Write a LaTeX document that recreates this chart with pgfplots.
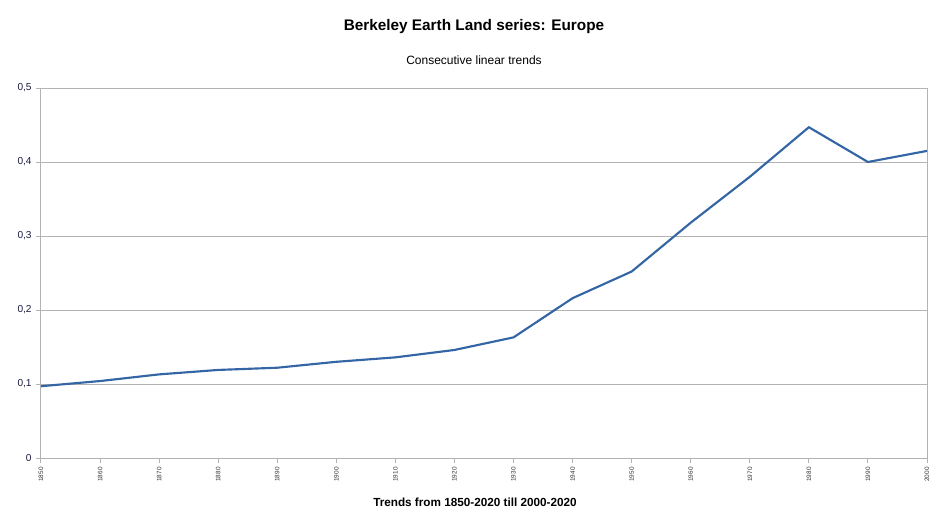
\documentclass[border=0pt]{standalone}
\usepackage{pgfplots}
\pgfplotsset{compat=1.18}
\usepackage{fontspec}
\setmainfont{Liberation Sans}
\definecolor{lineblue}{HTML}{3465A4}
\definecolor{axgray}{HTML}{B3B3B3}
\definecolor{ticklab}{HTML}{1A1A40}
\begin{document}
\begin{tikzpicture}[x=0.75pt,y=0.75pt]
\useasboundingbox (0,0) rectangle (950,526);
\node[font=\bfseries\fontsize{11.5}{13}\selectfont] at (474,499) {Berkeley Earth Land series: Europe};
\node[font=\fontsize{9}{11}\selectfont] at (474,466) {Consecutive linear trends};
\node[font=\bfseries\fontsize{8.8}{11}\selectfont] at (475,24) {Trends from 1850-2020 till 2000-2020};
\begin{axis}[
  at={(30.75pt,51pt)}, anchor=south west,
  scale only axis, width=664.5pt, height=277.5pt,
  xmin=1850, xmax=2000, ymin=0, ymax=0.5,
  xtick={1850,1860,...,2000},
  ytick={0,0.1,...,0.5},
  axis line style={axgray, line width=0.75pt},
  axis x line*=bottom,
  axis y line*=left,
  ymajorgrids, grid style={axgray, line width=0.75pt},
  major tick length=3.5pt,
  tick align=outside,
  tick style={axgray, line width=0.75pt},
  xtick pos=bottom, ytick pos=left,
  /pgf/number format/assume math mode=true,
  /pgf/number format/use comma,
  /pgf/number format/1000 sep={},
  y tick label style={font=\fontsize{7.6}{9}\selectfont, text=ticklab, /pgf/number format/fixed, /pgf/number format/precision=1},
  x tick label style={font=\fontsize{4.8}{5.5}\selectfont, rotate=90, anchor=east, text=black!80, /pgf/number format/1000 sep={}},
  clip=false,
]
\draw[axgray, line width=0.75pt] (axis cs:2000,0) -- (axis cs:2000,0.5);
\addplot[lineblue, line width=1.6pt, mark=none] coordinates {
(1850,0.097) (1860,0.104) (1870,0.113) (1880,0.119) (1890,0.122)
(1900,0.130) (1910,0.136) (1920,0.146) (1930,0.163) (1940,0.216)
(1950,0.252) (1960,0.318) (1970,0.380) (1980,0.447) (1990,0.400)
(2000,0.415)
};
\end{axis}
\end{tikzpicture}
\end{document}
